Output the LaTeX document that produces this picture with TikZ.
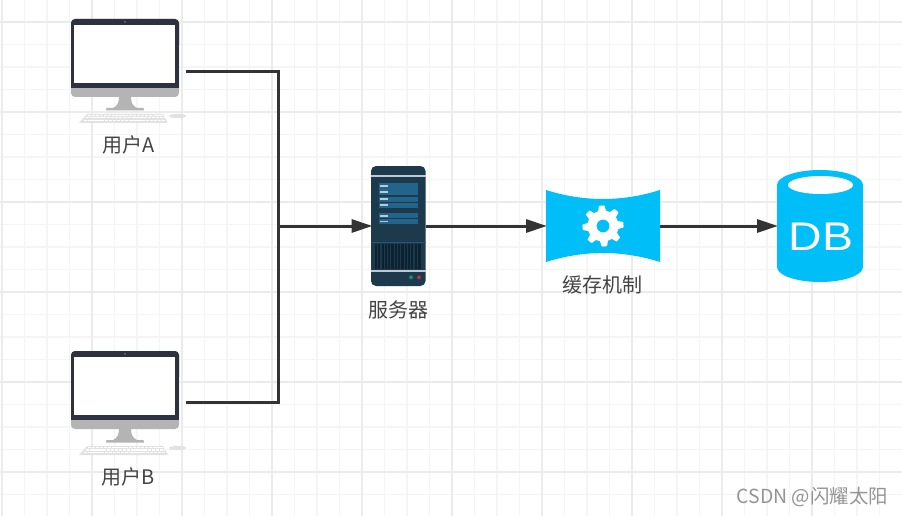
\documentclass[tikz,border=0pt]{standalone}
\usepackage{fontspec}
\setmainfont{Noto Sans CJK SC}
\newfontfamily\latinface{Liberation Sans}
\usetikzlibrary{arrows.meta}
\definecolor{gridminor}{HTML}{F5F5F5}
\definecolor{gridmajor}{HTML}{EBEBEB}
\definecolor{wire}{HTML}{333333}
\definecolor{cyanfill}{HTML}{00BEF7}
\definecolor{screenframe}{HTML}{2E3240}
\definecolor{monitorbase}{HTML}{B4B4B4}
\definecolor{keyboardgray}{HTML}{E2E2E2}
\definecolor{rackbody}{HTML}{1D3A4C}
\definecolor{rackbar}{HTML}{23658A}
\definecolor{rackline}{HTML}{B9C9D5}
\definecolor{rackvent}{HTML}{0D2231}
\definecolor{ledgreen}{HTML}{1F8A70}
\definecolor{ledred}{HTML}{B5304F}
\definecolor{labeltext}{HTML}{444444}
\tikzset{
  x=1pt, y=-1pt,
  wireline/.style={draw=wire, line width=3pt},
  flow/.style={wireline, -{Triangle[length=21pt,width=13pt]}, shorten >=-1pt},
  anchorbox/.style={inner sep=0pt, outer sep=0pt, minimum width=#1},
  caption/.style={text=labeltext, font=\fontsize{20}{22}\selectfont, inner sep=0pt},
  % desktop computer with keyboard and mouse; local origin at the top left of the frame
  desktop/.pic={
    \fill[monitorbase, rounded corners=4pt] (0,0) rectangle (108,78);
    \fill[screenframe, rounded corners=4pt] (0,0) rectangle (108,30);
    \fill[screenframe] (0,10) rectangle (108,69);
    \fill[white] (3,6) rectangle (104,64);
    \fill[gray!70] (54,2.9) circle (0.7);
    \fill[monitorbase] (48,78) -- (60,78) .. controls (60,84) and (62,87) .. (66,89)
      -- (72.5,89) -- (73,91.5) -- (35,91.5) -- (35.5,89) -- (42,89)
      .. controls (46,87) and (48,84) .. (48,78) -- cycle;
    \fill[keyboardgray] (16,95) -- (92,95) -- (97,104) -- (8,104) -- cycle;
    \foreach \row/\lft/\rgt in {96.6/16.5/91.5, 98.9/15/93, 101.2/13/95}
      \draw[white, line width=1.2pt, dash pattern=on 3.4pt off 0.7pt] (\lft,\row) -- (\rgt,\row);
    \fill[keyboardgray] (106.5,97) ellipse (8.5 and 2.2);
  },
  % rack server front
  rackserver/.pic={
    \fill[rackbody, rounded corners=5pt] (0,0) rectangle (54.5,120);
    \fill[rackline] (0,9) rectangle (54.5,11);
    \foreach \top/\bot in {17.3/22.7, 23.3/28.7, 30.7/36, 36.7/41.7, 47/52.3, 53/57.7}{
      \fill[rackbar] (8,\top) rectangle (47,\bot);
      \fill[rackline] (9,\top+1.6) rectangle (16.5,\bot-1.6);
    }
    \draw[rackbar!70!rackbody, line width=0.7pt] (0,76.7) -- (54.5,76.7);
    \fill[rackvent] (3.7,78) rectangle (50.3,103);
    \foreach \k in {0,...,12}
      \draw[rackbody, line width=1.1pt] (6.7+\k*3.3,78) -- (6.7+\k*3.3,103);
    \fill[rackline] (0,103.6) rectangle (54.5,105.6);
    \fill[ledgreen] (40,111.3) circle (2);
    \fill[ledred] (48,111.3) circle (2);
  },
}
\begin{document}
\begin{tikzpicture}
  \useasboundingbox (0,0) rectangle (902,516);
  \fill[white] (0,0) rectangle (902,516);

  % drawing canvas grid
  \foreach \k in {0,...,39}
    \draw[gridminor, line width=1.2pt] (2+\k*22.5,0) -- (2+\k*22.5,516);
  \foreach \k in {0,...,22}
    \draw[gridminor, line width=1.2pt] (0,-0.5+\k*22.5) -- (902,-0.5+\k*22.5);
  \foreach \k in {0,...,9}
    \draw[gridmajor, line width=1.2pt] (2+\k*90,0) -- (2+\k*90,516);
  \foreach \k in {0,...,5}
    \draw[gridmajor, line width=1.2pt] (0,22+\k*90) -- (902,22+\k*90);

  % computers
  \pic at (71,19) {desktop};
  \pic at (71,351) {desktop};
  \node[anchorbox=115pt] (clientA) at (128.5,71.4) {};
  \node[anchorbox=115pt] (clientB) at (128.5,402) {};
  \node[caption] (labelA) at (129,145) {用户A};
  \node[caption] (labelB) at (128.5,477) {用户B};

  % server
  \pic at (371,166) {rackserver};
  \node[anchorbox=54pt] (server) at (398.5,226) {};
  \node[caption] (labelServer) at (398.5,310) {服务器};

  % cache mechanism
  \fill[cyanfill] (546,190) .. controls (584,202) and (622,202) .. (660,190)
    -- (660,262) .. controls (622,250) and (584,250) .. (546,262) -- cycle;
  \node[anchorbox=114pt] (cache) at (603,226) {};
  \fill[white, even odd rule]
    plot[smooth cycle, tension=0.12, samples at={0,...,47}]
      ({603+(mod(\x,6)<3 ? 20.5 : 15.5)*cos(\x*7.5-11.25)},
       {226+(mod(\x,6)<3 ? 20.5 : 15.5)*sin(\x*7.5-11.25)})
    (603,226) circle (6.5);
  \node[caption] (labelCache) at (602,285) {缓存机制};

  % database cylinder
  \fill[cyanfill] (777,185) rectangle (863,267);
  \fill[cyanfill] (820,185) ellipse (43 and 15);
  \fill[cyanfill] (820,267) ellipse (43 and 15);
  \fill[white] (820.5,185) ellipse (32.5 and 9);
  \node[anchorbox=86pt] (database) at (820,226) {};
  \node[text=white, inner sep=0pt, xscale=1.16, font=\latinface\fontsize{40}{42}\selectfont] (dbText) at (821,237) {DB};

  % connectors
  \coordinate (junction) at (278.6,226);
  \draw[wireline] (clientA.east) -| (junction);
  \draw[wireline] (clientB.east) -| (junction);
  \draw[flow] (junction) -- (server.west);
  \draw[flow] (server.east) -- (cache.west);
  \draw[flow] (cache.east) -- (database.west);

  % footer mark
  \node[text=black!42, inner sep=0pt, anchor=east, font=\fontsize{19.4}{21}\selectfont] (footerMark) at (888,497) {CSDN @闪耀太阳};
\end{tikzpicture}
\end{document}
